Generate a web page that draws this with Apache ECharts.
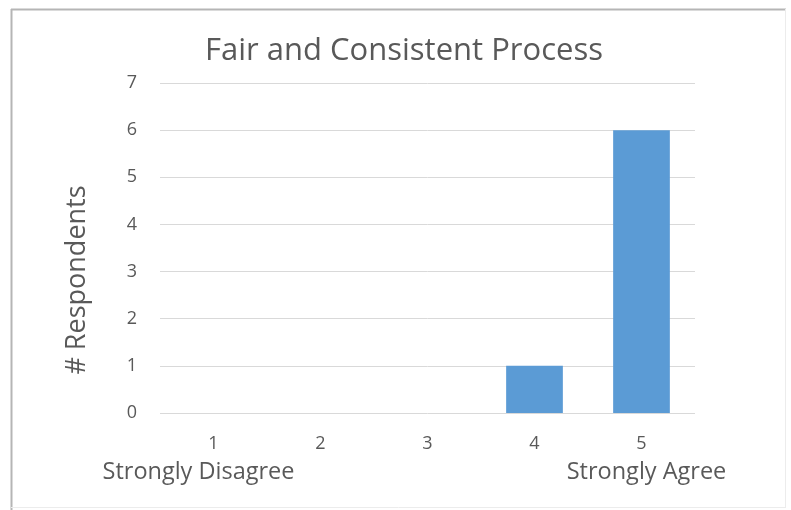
<!DOCTYPE html>
<html>
<head>
<meta charset="utf-8">
<script src="https://cdn.jsdelivr.net/npm/echarts@6/dist/echarts.min.js"></script>
<style>
  html, body { margin: 0; padding: 0; background: #ffffff; }
  #chart { width: 791px; height: 510px; }
</style>
</head>
<body>
<div id="chart"></div>
<script>
// Survey responses on a 1–5 agreement scale
const categories = ['1', '2', '3', '4', '5'];
const scaleNotes = ['Strongly Disagree', '', '', '', 'Strongly Agree'];
const respondents = [0, 0, 0, 1, 6];
const yTicks = [0, 1, 2, 3, 4, 5, 6, 7];

const textColor = '#595959';
const fontFamily = '"Open Sans", "Noto Sans", sans-serif';

const chart = echarts.init(document.getElementById('chart'), null, { renderer: 'canvas' });

chart.setOption({
  backgroundColor: '#ffffff',
  animation: false,
  title: {
    text: 'Fair and Consistent Process',
    left: 399,
    top: 31,
    textAlign: 'center',
    textStyle: { color: textColor, fontFamily, fontSize: 31, fontWeight: 'normal' }
  },
  grid: { left: 160, right: 96, top: 83, bottom: 97, containLabel: false },
  xAxis: {
    type: 'category',
    data: categories,
    axisLine: { show: false },
    axisTick: { show: false },
    axisLabel: {
      interval: 0,
      margin: 17,
      formatter: (v, i) => {
        const note = scaleNotes[i];
        if (!note) return '{num|' + v + '}';
        return '{num|' + v + '}\n{' + (i === 0 ? 'noteL' : 'noteR') + '|' + note + '}';
      },
      rich: {
        num: { color: textColor, fontFamily, fontSize: 18, lineHeight: 28 },
        noteL: { color: textColor, fontFamily, fontSize: 23.5, lineHeight: 29, padding: [0, 30, 0, 0] },
        noteR: { color: textColor, fontFamily, fontSize: 23.5, lineHeight: 29, padding: [0, 0, 0, 10] }
      }
    }
  },
  yAxis: {
    type: 'value',
    min: yTicks[0],
    max: yTicks[yTicks.length - 1],
    interval: 1,
    name: '# Respondents',
    nameLocation: 'middle',
    nameGap: 69,
    nameRotate: 90,
    nameTextStyle: { color: textColor, fontFamily, fontSize: 27, padding: [0, 64, 0, 0] },
    axisLine: { show: false },
    axisTick: { show: false },
    axisLabel: { color: textColor, fontFamily, fontSize: 18, margin: 23 },
    splitLine: { lineStyle: { color: '#d9d9d9', width: 1 } }
  },
  series: [{
    type: 'bar',
    data: respondents,
    barWidth: '53%',
    itemStyle: { color: '#5b9bd5' }
  }],
  graphic: [
    { type: 'line', shape: { x1: 11.5, y1: 9, x2: 11.5, y2: 510 }, style: { stroke: '#b5b5b5', lineWidth: 2 } },
    { type: 'line', shape: { x1: 11, y1: 9.5, x2: 786, y2: 9.5 }, style: { stroke: '#b5b5b5', lineWidth: 2 } },
    { type: 'line', shape: { x1: 785.5, y1: 9, x2: 785.5, y2: 508 }, style: { stroke: '#ececec', lineWidth: 1 } },
    { type: 'line', shape: { x1: 11, y1: 507.5, x2: 786, y2: 507.5 }, style: { stroke: '#ececec', lineWidth: 1 } }
  ]
});
</script>
</body>
</html>
